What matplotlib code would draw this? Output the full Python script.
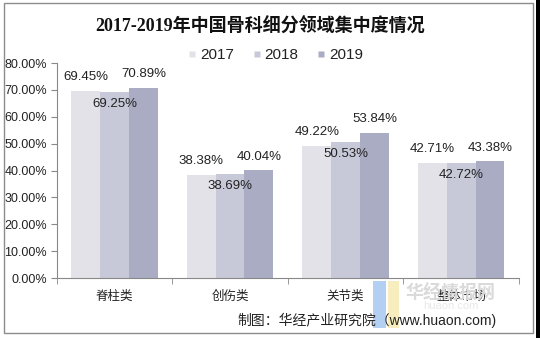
import matplotlib
matplotlib.use('Agg')
import matplotlib.pyplot as plt
from matplotlib.patches import Rectangle
from matplotlib.lines import Line2D
import numpy as np

plt.rcParams['font.family'] = ['Liberation Sans', 'Noto Sans CJK SC', 'DejaVu Sans']

categories = ['脊柱类', '创伤类', '关节类', '整体市场']
years = ['2017', '2018', '2019']
v2017 = [69.45, 38.38, 49.22, 42.71]
v2018 = [69.25, 38.69, 50.53, 42.72]
v2019 = [70.89, 40.04, 53.84, 43.38]
yticks = [0, 10, 20, 30, 40, 50, 60, 70, 80]

colors = ['#E2E2E8', '#C7C9D8', '#A9ACC3']
series = [v2017, v2018, v2019]

fig = plt.figure(figsize=(5.4, 3.38), dpi=100)
ax = fig.add_axes([0.105, 0.1775, 0.856, 0.636])

x = np.arange(len(categories))
w = 0.25
for i, vals in enumerate(series):
    pos = x + (i - 1) * w
    ax.bar(pos, vals, width=w, color=colors[i], edgecolor='none', zorder=2)
    # 2018 labels sit inside the bar, the others above
    off = -8.5 if i == 1 else 10
    for px, v in zip(pos, vals):
        ax.annotate('%.2f%%' % v, (px, v), xytext=(0, off), textcoords='offset points',
                    ha='center', va='center', fontsize=9.5, color='#222222', zorder=3)

ax.set_xlim(-0.5, len(categories) - 0.5)
ax.set_ylim(0, 80)
ax.set_yticks(yticks)
ax.set_yticklabels(['%.2f%%' % t for t in yticks], fontsize=9, color='#222222')
ax.set_xticks(x)
ax.set_xticklabels(categories, fontsize=9, color='#222222')
ax.tick_params(axis='x', length=0, pad=9)
ax.set_xticks(np.arange(len(categories) + 1) - 0.5, minor=True)
ax.tick_params(axis='x', which='minor', length=4, color='#888888', direction='out')
ax.tick_params(axis='y', length=4, color='#888888', pad=3)
for s in ['top', 'right']:
    ax.spines[s].set_visible(False)
for s in ['left', 'bottom']:
    ax.spines[s].set_color('#888888')
    ax.spines[s].set_linewidth(0.8)

handles = [Line2D([], [], marker='s', linestyle='none', markersize=5,
                  markerfacecolor=c, markeredgecolor='none') for c in colors]
fig.legend(handles, years, loc='center', bbox_to_anchor=(0.51, 0.837), ncol=3,
           frameon=False, fontsize=11, handlelength=0.6, handletextpad=0.2,
           columnspacing=1.2, labelcolor='#222222')

fig.text(0.482, 0.92, '2017-2019年中国骨科细分领域集中度情况',
         family=['Liberation Serif', 'Noto Sans CJK SC'], fontweight='bold',
         fontsize=13, ha='center', va='center', color='#111111')

# watermark
fig.patches.append(Rectangle((0.69, 0.03), 0.025, 0.14, transform=fig.transFigure,
                             facecolor='#B3CFF2', edgecolor='none', zorder=0))
fig.patches.append(Rectangle((0.718, 0.03), 0.02, 0.14, transform=fig.transFigure,
                             facecolor='#F7EDBE', edgecolor='none', zorder=0))
fig.text(0.835, 0.132, '华经情报网', fontsize=13, fontweight='bold', color='#DADADA',
         ha='center', va='center', zorder=0, family=['Noto Sans CJK SC'])
fig.text(0.835, 0.095, 'huaon.com', fontsize=8, color='#E8E8E8',
         ha='center', va='center', zorder=0)

fig.text(0.92, 0.053, '制图：华经产业研究院（www.huaon.com)', fontsize=10,
         ha='right', va='center', color='#222222')

# outer frame and dark edge strip
fig.patches.append(Rectangle((4 / 540, 1 - 333 / 338), 529 / 540, 330 / 338,
                             transform=fig.transFigure, fill=False,
                             edgecolor='#8C8C8C', linewidth=1.0))
fig.patches.append(Rectangle((536 / 540, 0), 4 / 540, 1, transform=fig.transFigure,
                             facecolor='black', edgecolor='none'))

fig.savefig('out.png', dpi=100)
